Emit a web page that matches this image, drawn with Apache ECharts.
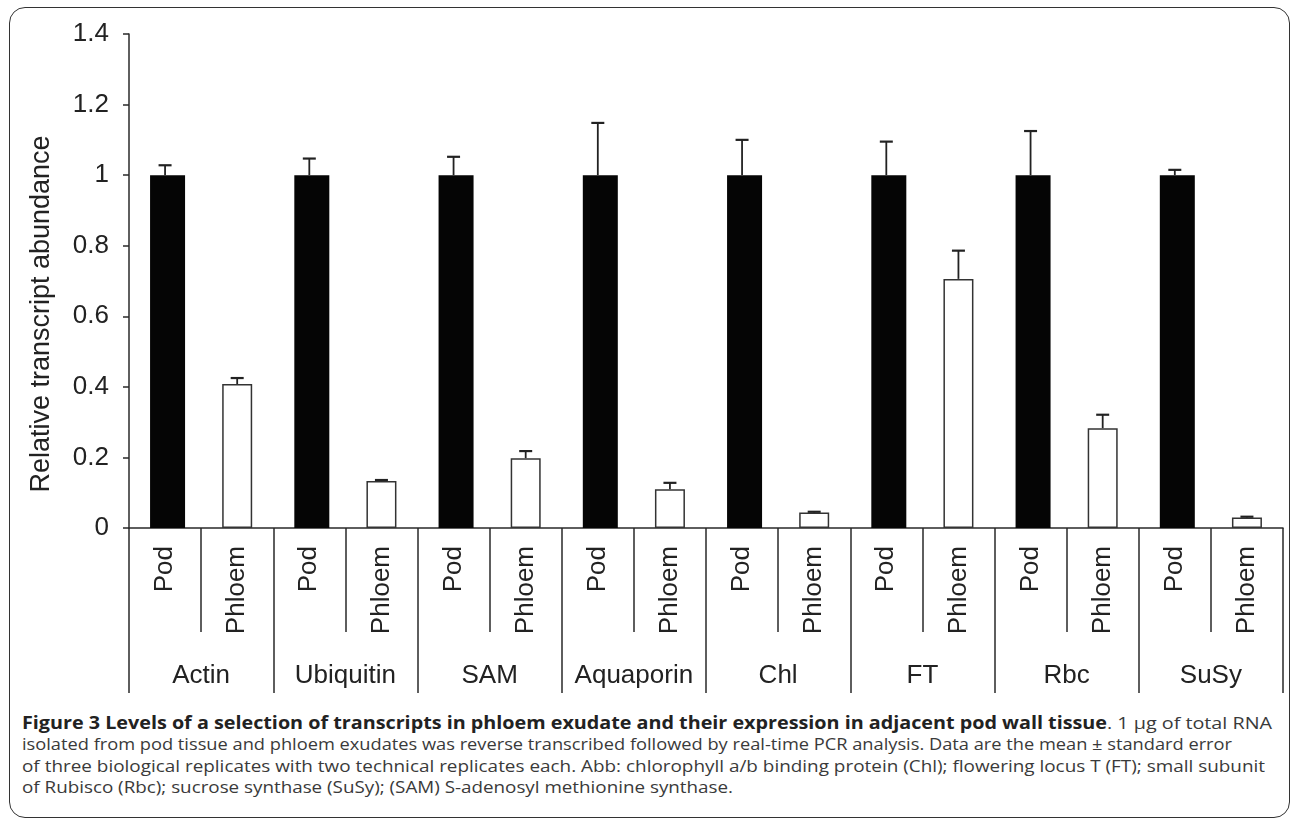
<!DOCTYPE html>
<html><head><meta charset="utf-8">
<script src="https://cdn.jsdelivr.net/npm/echarts@6/dist/echarts.min.js"></script>
<style>
html,body{margin:0;padding:0;background:#fff;}
#wrap{position:relative;width:1290px;height:824px;overflow:hidden;background:#fff;}
#frame{position:absolute;left:9px;top:7px;width:1281px;height:811px;border:1.5px solid #333;border-radius:16px;box-sizing:border-box;}
#chart{position:absolute;left:0;top:0;width:1290px;height:700px;}
#caption{position:absolute;left:22px;top:712px;width:1260px;font-family:'Open Sans',sans-serif;font-size:17px;line-height:21.3px;color:#3a3a3a;}
#caption .l{display:inline-block;white-space:nowrap;transform-origin:0 50%;}
#caption b{color:#222;font-weight:700;}
</style>
</head><body>
<div id="wrap">
  <div id="frame"></div>
  <div id="chart"></div>
  <div id="caption">
    <span class="l" data-w="1250"><b>Figure 3 Levels of a selection of transcripts in phloem exudate and their expression in adjacent pod wall tissue</b>. 1 µg of total RNA</span><br>
    <span class="l" data-w="1210">isolated from pod tissue and phloem exudates was reverse transcribed followed by real-time PCR analysis. Data are the mean ± standard error</span><br>
    <span class="l" data-w="1243">of three biological replicates with two technical replicates each. Abb: chlorophyll a/b binding protein (Chl); flowering locus T (FT); small subunit</span><br>
    <span class="l" data-w="711">of Rubisco (Rbc); sucrose synthase (SuSy); (SAM) S-adenosyl methionine synthase.</span>
  </div>
</div>
<script>
// ---- data ----
const genes = ['Actin', 'Ubiquitin', 'SAM', 'Aquaporin', 'Chl', 'FT', 'Rbc', 'SuSy'];
const samples = ['Pod', 'Phloem'];
const podMean = [1, 1, 1, 1, 1, 1, 1, 1];
const podErr = [0.028, 0.047, 0.052, 0.148, 0.100, 0.095, 0.125, 0.015];
const phloemMean = [0.408, 0.133, 0.198, 0.110, 0.044, 0.706, 0.283, 0.030];
const phloemErr = [0.017, 0.003, 0.020, 0.018, 0.002, 0.080, 0.038, 0.002];
const yTitle = 'Relative transcript abundance';
const yMin = 0, yMax = 1.4, yStep = 0.2;

// ---- build ----
const cats = [];
genes.forEach(g => samples.forEach(s => cats.push(g + '|' + s)));
const podData = [], phloemData = [], errData = [];
genes.forEach((g, i) => {
  podData.push(podMean[i]); podData.push('-');
  phloemData.push('-'); phloemData.push(phloemMean[i]);
  errData.push([2 * i, podMean[i], podErr[i]]);
  errData.push([2 * i + 1, phloemMean[i], phloemErr[i]]);
});

const FONT = 'Liberation Sans, Arial, sans-serif';
const TXT = '#222';
const LINE = '#2a2a2a';

const chart = echarts.init(document.getElementById('chart'), null, {renderer: 'canvas'});
chart.setOption({
  animation: false,
  backgroundColor: 'transparent',
  grid: {left: 129, right: 7, top: 34, bottom: 172},
  xAxis: [{
    type: 'category', data: cats, position: 'bottom',
    axisLine: {show: true, lineStyle: {color: LINE, width: 1.5}},
    axisTick: {show: true, interval: 0, length: 104, lineStyle: {color: LINE, width: 1.5}},
    axisLabel: {interval: 0, rotate: 90, margin: 18, fontSize: 26, color: TXT, fontFamily: FONT,
      formatter: v => v.split('|')[1]},
    splitLine: {show: false}
  }, {
    type: 'category', data: genes, position: 'bottom',
    axisLine: {show: false},
    axisTick: {show: true, interval: 0, length: 165, lineStyle: {color: LINE, width: 1.5}},
    axisLabel: {interval: 0, margin: 135, fontSize: 26, color: TXT, fontFamily: FONT},
    splitLine: {show: false}
  }],
  yAxis: {
    type: 'value', min: yMin, max: yMax, interval: yStep,
    axisLine: {show: true, lineStyle: {color: LINE, width: 1.5}},
    axisTick: {show: true, length: 6, lineStyle: {color: LINE, width: 1.5}},
    axisLabel: {margin: 20, fontSize: 26, color: TXT, fontFamily: FONT},
    splitLine: {show: false}
  },
  graphic: [{
    type: 'text', x: 42, y: 314, rotation: Math.PI / 2,
    style: {text: yTitle, font: '27px ' + FONT, fill: TXT, textAlign: 'center', textVerticalAlign: 'middle'}
  }],
  series: [{
    name: 'Pod', type: 'bar', data: podData, barWidth: 35, barGap: '-100%',
    itemStyle: {color: '#050505'}, z: 2
  }, {
    name: 'Phloem', type: 'bar', data: phloemData, barWidth: 30, barGap: '-100%',
    itemStyle: {color: '#ffffff', borderColor: '#333', borderWidth: 1.5}, z: 2
  }, {
    name: 'SE', type: 'custom', data: errData, z: 3,
    encode: {x: 0, y: [1, 2]},
    renderItem: function (params, api) {
      const idx = api.value(0);
      const base = api.coord([idx, api.value(1)]);
      const top = api.coord([idx, api.value(1) + api.value(2)]);
      return {type: 'group', children: [
        {type: 'line', shape: {x1: base[0], y1: base[1], x2: top[0], y2: top[1]}, style: {stroke: '#222', lineWidth: 1.8}},
        {type: 'line', shape: {x1: top[0] - 6.5, y1: top[1], x2: top[0] + 6.5, y2: top[1]}, style: {stroke: '#222', lineWidth: 2.2}}
      ]};
    }
  }]
});

// fit caption lines to the reference line lengths
function fitCaption() {
  document.querySelectorAll('#caption .l').forEach(el => {
    el.style.transform = 'none';
    const w = el.getBoundingClientRect().width;
    const target = +el.dataset.w;
    if (w > 0) el.style.transform = 'scaleX(' + (target / w) + ')';
  });
}
fitCaption();
if (document.fonts && document.fonts.ready) document.fonts.ready.then(fitCaption);
</script>
</body></html>
